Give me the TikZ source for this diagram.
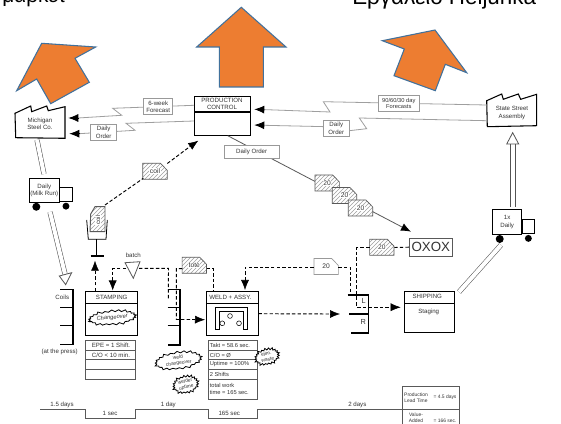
\documentclass[tikz,border=0pt]{standalone}
\usepackage{fontspec}
\setmainfont{Liberation Sans}
\usetikzlibrary{positioning,arrows.meta,calc,patterns,shapes.symbols}
\definecolor{arrowfill}{HTML}{ED7D31}
\definecolor{arrowedge}{HTML}{41719C}
\definecolor{vsmink}{HTML}{333333}
\tikzset{
  wh/.code 2 args={\pgfmathsetmacro\boxw{#1*0.75}\pgfmathsetmacro\boxh{#2*0.75}\tikzset{minimum width=\boxw pt,minimum height=\boxh pt}},
  lbl/.style={font=\fontsize{4.6}{5.3}\selectfont,text=vsmink,align=center,inner sep=0pt},
  small/.style={font=\fontsize{4.3}{5}\selectfont},
  tiny/.style={font=\fontsize{3.7}{4.3}\selectfont},
  procbox/.style={draw=black,line width=0.8pt,inner sep=0pt},
  infobox/.style={lbl,draw=gray!80,fill=white,line width=0.6pt},
  databox/.style={draw=gray!70!black,line width=0.6pt,inner sep=0pt},
  info/.style={draw=gray!75,line width=0.6pt},
  pull/.style={draw=black,line width=0.7pt,dash pattern=on 2.6pt off 1.6pt},
  head/.style={-{Latex[length=7.5pt,width=6pt]}},
  shipline/.style={draw=gray!65!black,line width=0.4pt,double,double distance=3pt},
  shipside/.style={draw=gray!65!black,line width=0.5pt},
  hollow/.style={draw=gray!65!black,line width=0.6pt,fill=white},
  bigarrow/.style={fill=arrowfill,draw=arrowedge,line width=0.8pt,line join=miter},
  burst/.style={lbl,draw=black,fill=white,line width=0.6pt,shape=starburst,starburst points=21,
    starburst point height=2pt,inner sep=0pt},
  store/.style={draw=black,line width=0.8pt},
  hatchcard/.style={draw=gray!70!black,line width=0.5pt,preaction={fill=white},pattern=north east lines,pattern color=gray!75},
  plaincard/.style={draw=gray!80,line width=0.5pt,fill=white},
}
% kanban card: name, x, y, look, text
\newcommand{\cardat}[5]{%
  \draw[#4] (#2-12.2,#3-8) -- (#2+5.5,#3-8) -- (#2+12.2,#3-1) -- (#2+12.2,#3+8) -- (#2-12.2,#3+8) -- cycle;
  \node[lbl,fill=white,inner sep=0.4pt,font=\fontsize{5}{6}\selectfont] (#1) at (#2,#3) {#5};
}
% truck: name, x, y, width, height, text
\newcommand{\truckat}[6]{%
  \node[procbox,lbl,draw=black,line width=0.7pt,wh={#4}{#5}] (#1) at (#2,#3) {#6};
  \draw[line width=0.6pt] (#1.east) ++(0,-3) rectangle ++(12.6,14);
  \fill ($(#1.south west)+(7.5,4)$) circle (3pt);
  \fill ($(#1.south east)+(6.2,3.4)$) circle (2.6pt);
}
\begin{document}
\begin{tikzpicture}[x=0.75pt,y=-0.75pt,>=Latex]
  \clip (0,0) rectangle (561,424);
  \fill[white] (0,0) rectangle (561,424);
  % title text
  \node[anchor=base west,inner sep=0pt,font=\fontsize{15.6}{18}\selectfont] (marketlbl) at (2,3) {μάρκετ};
  \node[anchor=base west,inner sep=0pt,font=\fontsize{16.8}{20}\selectfont] (heijlbl) at (352,5) {Εργαλείο Heijunka};
  % outside plants
  \draw[line width=0.8pt,fill=white] (15,113.3) -- (30.7,106) -- (31.7,111.7) -- (46.7,106) -- (48.3,110.7) -- (65,106.7) -- (65,138.3) -- (15.7,137.7) -- cycle;
  \node[lbl] (steel) at (40,124) {Michigan\\Steel Co.};
  \draw[line width=0.8pt,fill=white] (486.7,100.7) -- (501.7,94) -- (503.3,99.3) -- (518.3,94) -- (520.7,99.3) -- (536.7,94.3) -- (536.7,125.7) -- (487.3,126.7) -- cycle;
  \node[lbl] (assembly) at (512,113) {State Street\\Assembly};
  % production control
  \node[procbox,wh={56.3}{39}] (pc) at (222.2,116.2) {};
  \draw[line width=0.8pt] (194,112) -- (250.4,112);
  \node[lbl] (pclbl) at (222,104.3) {PRODUCTION\\CONTROL};
  \coordinate (pcA) at (194,105.3);
  \coordinate (pcB) at (194,121);
  \coordinate (pcC) at (254.3,109.3);
  \coordinate (pcD) at (254.3,125);
  \coordinate (steelA) at (68.3,118);
  \coordinate (steelB) at (69.3,133.7);
  \coordinate (asmA) at (486.7,105);
  \coordinate (asmB) at (486.7,120.7);
  % electronic info flows
  \draw[info] (pcA) -- (112.7,108.3) -- (121.7,115.3) -- (78,118);
  \draw[info] (pcB) -- (126,123.3) -- (135,130.3) -- (79,133.7);
  \draw[info] (asmA) -- (323.3,101.7) -- (330,112) -- (264,109.6);
  \draw[info] (asmB) -- (359.3,118) -- (366.7,128.7) -- (349.3,130.7) -- (340,127) -- (264,125.3);
  \foreach \tipA/\baseA in {steelA/{78,118},steelB/{79,133.7},pcC/{264,109.6},pcD/{264,125.3}}
    {\draw[head,line width=0.6pt] (\baseA) -- (\tipA);}
  \node[infobox,wh={29}{16}] (sixweek) at (158.2,106.7) {6-week\\Forecast};
  \node[infobox,wh={26}{16}] (orderA) at (103.7,132.3) {Daily\\Order};
  \node[infobox,wh={41}{16.4},small] (forecasts) at (398.8,103.5) {90/60/30 day\\Forecasts};
  \node[infobox,wh={26}{16}] (orderB) at (336.3,128.3) {Daily\\Order};
  % daily order to the board
  \coordinate (leveling) at (411,231.7);
  \draw[gray!70!black,line width=0.6pt] (227.7,135.7) -- (402,227);
  \draw[head,line width=0.6pt] (402,227) -- (leveling);
  \node[infobox,wh={55.3}{13}] (order) at (251.7,152.2) {Daily Order};
  \cardat{cardA}{327.2}{183}{hatchcard}{20}
  \cardat{cardB}{344.5}{195.5}{hatchcard}{20}
  \cardat{cardC}{360.5}{208}{hatchcard}{20}
  % truck routes
  \truckat{truckA}{44.3}{190.3}{30}{24}{Daily\\(Milk Run)}
  \truckat{truckB}{507.2}{222}{29}{25}{1x\\Daily}
  \coordinate (steelS) at (37,140);
  \coordinate (truckAN) at (44,174);
  \coordinate (truckAS) at (50,212);
  \coordinate (coilsN) at (65,274);
  \coordinate (truckBL) at (510.3,207);
  \coordinate (truckBR) at (515,207);
  \coordinate (asmL) at (510.3,143);
  \coordinate (asmR) at (515,143);
  \coordinate (truckBS) at (501,245);
  \coordinate (shipNE) at (459,292);
  \draw[shipline] (steelS) -- (truckAN);
  \draw[shipline] (truckAS) -- (coilsN);
  \draw[hollow] (59.3,276) -- (65.7,284.7) -- (71.7,272.7) -- cycle;
  \draw[shipside] (truckBL) -- (asmL);
  \draw[shipside] (truckBR) -- (asmR);
  \draw[hollow] (506.7,144) -- (512.7,132.7) -- (518.7,144) -- cycle;
  \draw[shipline] (truckBS) -- (shipNE);
  % stamping
  \node[procbox,wh={52.4}{43.7}] (stamping) at (111.5,313.2) {};
  \draw[line width=0.8pt] (85.3,303.7) -- (137.7,303.7);
  \node[lbl] (stamplbl) at (111.7,297.7) {STAMPING};
  \node[burst,rotate=5,wh={46}{17},small] (changeover) at (112.3,317.7) {\textit{Changeover}};
  \node[databox,wh={50}{39}] (stampdata) at (110.7,359.8) {};
  \foreach \y in {350.3,359.7,369.7} {\draw[gray!70!black,line width=0.5pt] (85.7,\y) -- (135.7,\y);}
  \node[lbl] (epe) at (111,345.5) {EPE = 1 Shift.};
  \node[lbl] (changeA) at (111,355) {C/O < 10 min.};
  % weld
  \node[procbox,wh={52.3}{43.7}] (weld) at (232.2,313.2) {};
  \draw[line width=0.8pt] (206,303.7) -- (258.3,303.7);
  \node[lbl] (weldlbl) at (230.3,297) {WELD + ASSY.};
  \draw[line width=0.5pt] (215,329) -- (215,307.7) -- (247.3,307.7) -- (247.3,329) -- (243,329) -- (243,311.7) -- (219.3,311.7) -- (219.3,329) -- cycle;
  \foreach \cx/\cy in {230/316,222.3/323.3,239/323.3} {\draw[line width=0.4pt] (\cx,\cy) circle (1.8pt);}
  \node[databox,wh={49.7}{58.7}] (welddata) at (232.8,369.7) {};
  \foreach \y in {350.3,359.7,369.3,379} {\draw[gray!70!black,line width=0.5pt] (208,\y) -- (257.7,\y);}
  \node[lbl,small,anchor=west] (takt) at (209.5,345.5) {Takt = 58.6 sec.};
  \node[lbl,small,anchor=west] (changeB) at (209.5,355) {C/O = Ø};
  \node[lbl,small,anchor=west] (uptime) at (209.5,364.5) {Uptime = 100\%};
  \node[lbl,small,anchor=west] (shifts) at (209.5,374.2) {2 Shifts};
  \node[lbl,small,anchor=west,align=left] (work) at (209.5,389) {total work\\time = 165 sec.};
  \node[burst,rotate=15,wh={27}{18},tiny] (elim) at (267,356.7) {elim.\\waste};
  \node[burst,rotate=8,wh={49}{17},tiny] (changeC) at (178.3,360.5) {weld\\changeover};
  \node[burst,rotate=12,wh={28}{20},tiny] (welder) at (185.7,384.5) {welder\\uptime};
  % shipping
  \node[procbox,wh={49.6}{41.4}] (shipping) at (429.5,312) {};
  \draw[line width=0.8pt] (404.7,303.3) -- (454.3,303.3);
  \node[lbl] (shiplbl) at (427.3,296.7) {SHIPPING};
  \node[lbl] (staging) at (428.7,311.7) {Staging};
  % supermarkets
  \draw[store] (60,289.3) -- (73,289.3) -- (73,344.3) -- (60,344.3);
  \foreach \y in {307.7,325.7} {\draw[store] (60,\y) -- (73,\y);}
  \node[lbl] (coils) at (62.3,297) {Coils};
  \node[lbl] (press) at (59.7,352.3) {(at the press)};
  \draw[store] (167.7,289.3) -- (180,289.3) -- (180,345) -- (167.7,345);
  \foreach \y in {307.7,325.7} {\draw[store] (167.7,\y) -- (180,\y);}
  \draw[store] (347.7,295) -- (368.7,295) -- (368.7,333) -- (350.7,333);
  \draw[line width=1.5pt] (349,314) -- (368.7,314);
  \node[lbl,font=\fontsize{5.5}{6}\selectfont] (lane) at (363.7,300.7) {L};
  \node[lbl,font=\fontsize{5.5}{6}\selectfont] (rane) at (363.3,321.7) {R};
  % signal kanban
  \draw[hatchcard,line width=0.7pt] (90.7,214) -- (95,206.7) -- (105,206.7) -- (105,231.7) -- (90,231.7) -- cycle;
  \node[lbl,rotate=90,fill=white,inner sep=0.3pt] (coilsig) at (98,220) {coil};
  \draw[line width=0.6pt] (86.7,220) -- (88.3,239.3) -- (106,239.3) -- (107.3,220);
  \draw[line width=0.8pt] (96.7,239.3) -- (96.7,256);
  \draw[line width=1pt] (90.7,256) -- (104.3,256);
  \cardat{coilcard}{155}{171.3}{hatchcard}{coil}
  \cardat{totecard}{194.3}{265.3}{hatchcard}{tote}
  \cardat{greencard}{381.8}{247.2}{hatchcard}{20}
  \cardat{whitecard}{326.2}{266.5}{plaincard}{20}
  \node[draw=gray!70!black,line width=0.7pt,wh={43}{17.7},inner sep=0pt,text=vsmink,font=\fontsize{10}{12}\selectfont] (oxox) at (430.8,247.2) {OXOX};
  % batch
  \node[lbl] (batch) at (133.3,255) {batch};
  \draw[gray!70!black,line width=0.6pt] (125,262.7) -- (140,261.7) -- (133.3,278.3) -- cycle;
  \coordinate (batchL) at (126,268.3);
  \coordinate (batchR) at (139,268.3);
  % withdrawal loops
  \coordinate (stampN) at (95,291);
  \coordinate (crossbar) at (95,260.7);
  \coordinate (stampIn) at (112.7,290.5);
  \coordinate (storeA) at (168.3,300);
  \coordinate (weldIn) at (205,319.7);
  \coordinate (weldTop) at (245,290);
  \coordinate (weldOut) at (258.3,313.7);
  \coordinate (storeB) at (340,314);
  \coordinate (laneTop) at (350.7,294);
  \coordinate (shipIn) at (400.7,307.3);
  \coordinate (coilstart) at (105,205);
  \coordinate (pcIn) at (198.3,140.7);
  \draw[pull] (stampN) -- (95,268);
  \draw[head] (95,269.3) -- (crossbar);
  \draw[pull] (batchL) -- (112.7,268.3) -- (112.7,280);
  \draw[head] (112.7,280) -- (stampIn);
  \draw[pull] (batchR) -- (168.5,268.3) -- (storeA);
  \draw[pull] (totecard.west) ++(-5.5,3.4) -- (176.3,268.7) -- (176.3,319.5) -- (195,319.5);
  \draw[head] (195,319.6) -- (weldIn);
  \draw[pull] (206.5,268.7) -- (213.3,268.7) -- (213.3,290.5);
  \draw[pull] (whitecard.west) ++(-8,0.8) -- (245,267.3) -- (245,280);
  \draw[head] (245,280) -- (weldTop);
  \draw[pull] (weldOut) -- (330,314);
  \draw[head] (330,314) -- (storeB);
  \draw[pull] (338.4,267.3) -- (350.7,267.3) -- (laneTop);
  \draw[pull] (369.5,247.7) -- (356.7,247.7) -- (356.7,307) -- (391,307);
  \draw[head] (391,307.2) -- (shipIn);
  \draw[pull] (oxox.west) -- (394.3,247.5);
  \draw[pull] (coilstart) -- (143.3,178.3);
  \draw[pull] (167.3,163.5) -- (190,146.5);
  \draw[head] (190,146.5) -- (pcIn);
  % time line
  \coordinate (timeStart) at (40,409.3);
  \coordinate (timeEnd) at (402,409.3);
  \draw[gray!70!black,line width=0.6pt] (timeStart) -- (85.3,409.3) -- (85.3,418.3) -- (135.7,418.3) -- (135.7,409.3) -- (208,409.3) -- (208,418.3) -- (257.7,418.3) -- (257.7,409.3) -- (timeEnd);
  \node[lbl] (t1) at (62,405) {1.5 days};
  \node[lbl] (t2) at (110,413.5) {1 sec};
  \node[lbl] (t3) at (168.3,405) {1 day};
  \node[lbl] (t4) at (229.3,413.7) {165 sec};
  \node[lbl] (t5) at (357.3,405) {2 days};
  \node[databox,draw=gray!70!black,wh={57}{38}] (lead) at (430.5,405) {};
  \draw[gray!70!black,line width=0.6pt] (402,409.3) -- (459,409.3);
  \node[lbl,tiny] (leadA) at (416,398) {Production\\Lead Time};
  \node[lbl,tiny] (leadB) at (445,397.7) {= 4.5 days};
  \node[lbl,tiny] (valA) at (416,418) {Value-\\Added};
  \node[lbl,tiny] (valB) at (445,421) {= 166 sec.};
  % orange arrows
  \draw[bigarrow] (41.7,43.3) -- (95.7,47) -- (75,58.3) -- (89.3,82.3) -- (50.7,103.7) -- (36.7,79) -- (16.7,90.7) -- cycle;
  \draw[bigarrow] (241.3,7.3) -- (286,47) -- (263.3,47) -- (263.3,87) -- (219.3,87) -- (219.3,47) -- (196.7,47) -- cycle;
  \draw[bigarrow] (435,30) -- (466.7,72.7) -- (445.3,64.3) -- (435.3,90.7) -- (394,75.7) -- (404.3,49) -- (382.3,40.7) -- cycle;
\end{tikzpicture}
\end{document}
